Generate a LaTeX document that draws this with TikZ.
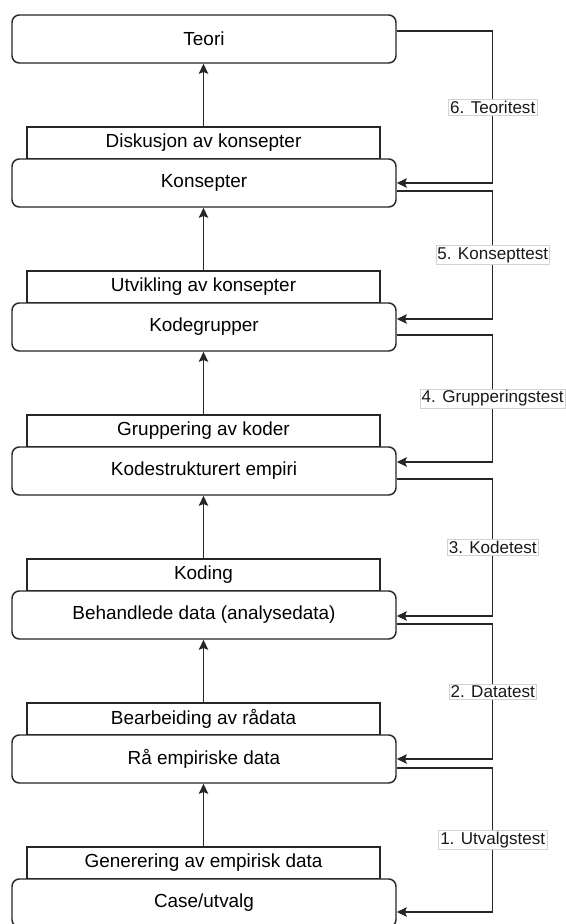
\documentclass[tikz,border=0pt]{standalone}
\usepackage{fontspec}
\setmainfont{Liberation Sans}
\usetikzlibrary{arrows.meta}
\definecolor{ink}{HTML}{262626}
\begin{document}
\begin{tikzpicture}[x=0.75pt,y=-0.75pt,
  stage/.style={draw=ink, line width=1.1pt, rounded corners=5.5pt, fill=white,
    minimum width=288pt, minimum height=36pt, inner sep=0pt,
    font=\fontsize{14.2}{17}\selectfont},
  work/.style={draw=ink, line width=1.1pt, fill=white,
    minimum width=264.75pt, minimum height=24pt, inner sep=0pt,
    font=\fontsize{14.2}{17}\selectfont},
  flow/.style={draw=ink, line width=1.1pt,
    -{Stealth[length=7.5pt,width=7pt,inset=1.3pt]}},
  testlabel/.style={fill=white, draw=gray!35, line width=0.4pt, inner sep=1.2pt,
    font=\fontsize{12.8}{15}\selectfont, text=black!90}
]
\useasboundingbox[fill=white] (0,0) rectangle (566,924);

% activities sitting on top of each stage
\node[work] (w1) at (203.5,143) {Diskusjon av konsepter};
\node[work] (w2) at (203.5,287) {Utvikling av konsepter};
\node[work] (w3) at (203.5,431) {Gruppering av koder};
\node[work] (w4) at (203.5,575) {Koding};
\node[work] (w5) at (203.5,719) {Bearbeiding av rådata};
\node[work] (w6) at (203.5,863) {Generering av empirisk data};

% stages
\node[stage] (s0) at (204,39)  {Teori};
\node[stage] (s1) at (204,183) {Konsepter};
\node[stage] (s2) at (204,327) {Kodegrupper};
\node[stage] (s3) at (204,471) {Kodestrukturert empiri};
\node[stage] (s4) at (204,615) {Behandlede data (analysedata)};
\node[stage] (s5) at (204,759) {Rå empiriske data};
\node[stage] (s6) at (204,903) {Case/utvalg};

% upward flow
\foreach \w/\s in {w1/s0,w2/s1,w3/s2,w4/s3,w5/s4,w6/s5}
  \draw[flow] (\w.north) -- (\w.north |- \s.south);

% feedback tests: leave a stage on the right, enter the one below
\coordinate (o0) at ([yshift=6pt]s0.east);
\coordinate (i1) at (s1.east);
\coordinate (o1) at ([yshift=-6pt]s1.east);
\coordinate (i2) at ([yshift=6pt]s2.east);
\coordinate (o2) at ([yshift=-6pt]s2.east);
\coordinate (i3) at ([yshift=6.75pt]s3.east);
\coordinate (o3) at ([yshift=-6pt]s3.east);
\coordinate (i4) at ([yshift=-0.75pt]s4.east);
\coordinate (o4) at ([yshift=-6.75pt]s4.east);
\coordinate (i5) at (s5.east);
\coordinate (o5) at ([yshift=-6.75pt]s5.east);
\coordinate (i6) at ([yshift=-6.75pt]s6.east);

\draw[flow] (o0) -- ++(96,0) |- (i1) node[testlabel, pos=0.25] {6. Teoritest};
\draw[flow] (o1) -- ++(96,0) |- (i2) node[testlabel, pos=0.25] {5. Konsepttest};
\draw[flow] (o2) -- ++(96,0) |- (i3) node[testlabel, pos=0.25] {4. Grupperingstest};
\draw[flow] (o3) -- ++(96,0) |- (i4) node[testlabel, pos=0.25] {3. Kodetest};
\draw[flow] (o4) -- ++(96,0) |- (i5) node[testlabel, pos=0.25] {2. Datatest};
\draw[flow] (o5) -- ++(96,0) |- (i6) node[testlabel, pos=0.25] {1. Utvalgstest};
\end{tikzpicture}
\end{document}
